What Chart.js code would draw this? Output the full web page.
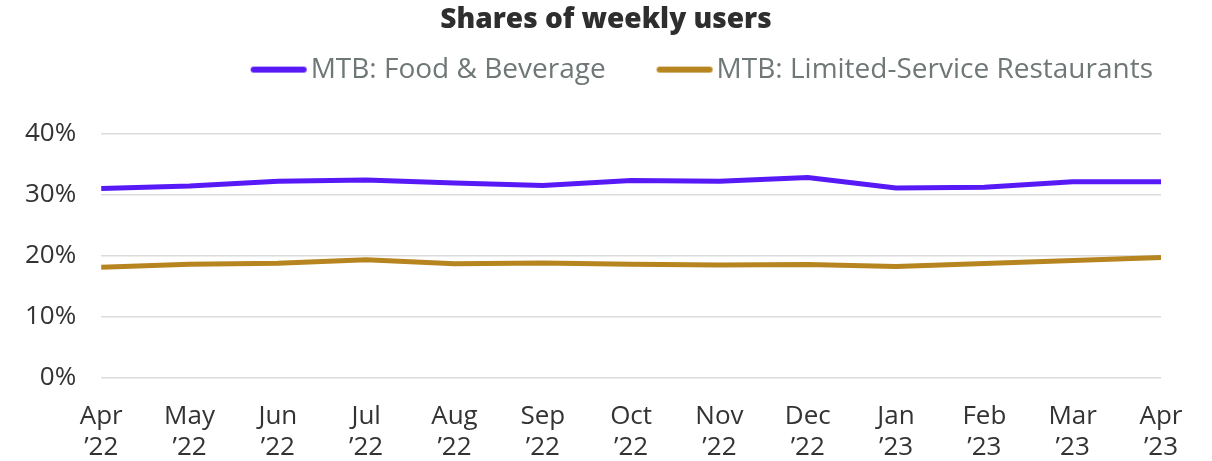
<!DOCTYPE html>
<html>
<head>
<meta charset="utf-8">
<script src="https://cdn.jsdelivr.net/npm/chart.js@4"></script>
<style>
  html, body { margin: 0; padding: 0; background: #fff; }
  #wrap { width: 1212px; height: 461px; }
</style>
</head>
<body>
<div id="wrap"><canvas id="myChart" width="1212" height="461"></canvas></div>
<script>
//
// data
//
const months = [
    ['Apr', '\u201922'], ['May', '\u201922'], ['Jun', '\u201922'], ['Jul', '\u201922'],
    ['Aug', '\u201922'], ['Sep', '\u201922'], ['Oct', '\u201922'], ['Nov', '\u201922'],
    ['Dec', '\u201922'], ['Jan', '\u201923'], ['Feb', '\u201923'], ['Mar', '\u201923'],
    ['Apr', '\u201923']
];
const foodBeverage = [31.0, 31.4, 32.2, 32.4, 31.9, 31.5, 32.3, 32.2, 32.8, 31.1, 31.2, 32.1, 32.1];
const limitedService = [18.1, 18.6, 18.75, 19.3, 18.65, 18.8, 18.6, 18.45, 18.55, 18.2, 18.7, 19.2, 19.7];
const yTicks = [0, 10, 20, 30, 40];

const fontName = "'Open Sans', 'Lato', sans-serif";
const blue = '#5819f7';
const gold = '#b7851f';

//
// legend swatch: a short thick line that sits close to its text
// (box is 89 wide, swatch image is centred on it and reaches to the text)
//
function makeSwatch(color) {
    const c = document.createElement('canvas');
    c.width = 115;
    c.height = 8;
    const g = c.getContext('2d');
    g.strokeStyle = color;
    g.lineWidth = 6;
    g.lineCap = 'round';
    g.beginPath();
    g.moveTo(59, 4);
    g.lineTo(109, 4);
    g.stroke();
    return c;
}

// title centred on the whole canvas, not only left of the right padding
const centerTitle = {
    id: 'centerTitle',
    afterLayout: function(chart) {
        if (chart.titleBlock) {
            chart.titleBlock.left = 0;
            chart.titleBlock.right = chart.width;
        }
    }
};

var myChart = new Chart(document.getElementById('myChart').getContext('2d'), {
    type: 'line',
    data: {
        labels: months,
        datasets: [{
                label: 'MTB: Food & Beverage',
                data: foodBeverage,
                borderColor: blue,
                backgroundColor: blue,
                borderWidth: 5,
                pointRadius: 0,
                tension: 0,
                fill: false,
            },
            {
                label: 'MTB: Limited-Service Restaurants',
                data: limitedService,
                borderColor: gold,
                backgroundColor: gold,
                borderWidth: 5,
                pointRadius: 0,
                tension: 0,
                fill: false,
            },
        ]
    },
    plugins: [centerTitle],
    options: {
        responsive: false,
        animation: false,
        layout: {
            padding: { left: 0, right: 51, top: 0, bottom: -25 }
        },
        plugins: {
            title: {
                display: true,
                text: 'Shares of weekly users',
                color: '#2e2e2e',
                font: { family: fontName, size: 28, weight: 800, lineHeight: 1.2 },
                padding: { top: 3, bottom: 11 }
            },
            // empty spacer under the legend
            subtitle: {
                display: true,
                text: '',
                weight: 500,
                font: { size: 10, lineHeight: 1 },
                padding: { top: 0, bottom: 30 }
            },
            legend: {
                display: true,
                position: 'top',
                align: 'end',
                labels: {
                    color: '#6f7777',
                    font: { family: fontName, size: 28 },
                    usePointStyle: true,
                    pointStyleWidth: 89,
                    boxHeight: 6,
                    padding: 8,
                    generateLabels: function(chart) {
                        return chart.data.datasets.map(function(ds, i) {
                            return {
                                text: ds.label,
                                fillStyle: ds.borderColor,
                                strokeStyle: ds.borderColor,
                                lineWidth: 0,
                                pointStyle: makeSwatch(ds.borderColor),
                                fontColor: '#6f7777',
                                datasetIndex: i
                            };
                        });
                    }
                }
            },
            tooltip: { enabled: false }
        },
        scales: {
            x: {
                grid: { display: false, drawTicks: false },
                border: { display: false },
                offset: false,
                ticks: {
                    color: '#333333',
                    font: { family: fontName, size: 26, lineHeight: 1.2 },
                    maxRotation: 0,
                    autoSkip: false,
                    padding: 23
                }
            },
            y: {
                min: 0,
                max: 40,
                afterBuildTicks: function(axis) {
                    axis.ticks = yTicks.map(function(v) { return { value: v }; });
                },
                grid: { color: '#dcdcdc', lineWidth: 1.5, drawTicks: false },
                border: { display: false },
                ticks: {
                    color: '#333333',
                    font: { family: fontName, size: 26 },
                    padding: 25,
                    callback: function(v) { return v + '%'; }
                }
            }
        }
    }
});
</script>
</body>
</html>
